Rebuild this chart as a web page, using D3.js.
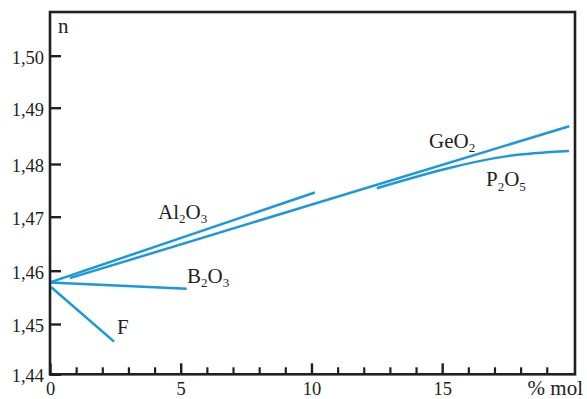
<!DOCTYPE html>
<html><head><meta charset="utf-8">
<script src="https://cdn.jsdelivr.net/npm/d3@7"></script>
<style>body{margin:0;background:#fff}svg{display:block}
text{font-family:"Liberation Serif","Times New Roman",Tinos,"Nimbus Roman","DejaVu Serif",serif}</style>
</head><body>
<script>
// ---- data ----
const xTicksMajor = [0, 5, 10, 15];
const xTicksMinor = [1, 2, 3, 4, 6, 7, 8, 9, 11, 12, 13, 14, 16, 17, 18, 19];
const yTicks = [1.44, 1.45, 1.46, 1.47, 1.48, 1.49, 1.50];
const yTickLabels = ["1,44", "1,45", "1,46", "1,47", "1,48", "1,49", "1,50"];
const xMax = 20.08;
const yMax = 1.5084;

const al2o3X = [0, 10.13];
const al2o3Y = [1.4578, 1.4746];
const geo2X = [0.76, 19.86];
const geo2Y = [1.4586, 1.4867];
const p2o5X = [12.5, 15.0, 17.5, 19.85];
const p2o5Y = [1.4754, 1.4789, 1.4814, 1.4823];
const b2o3X = [0, 5.23];
const b2o3Y = [1.4578, 1.4566];
const fX = [0.05, 2.45];
const fY = [1.4569, 1.4465];

// ---- layout ----
const W = 587, H = 399;
const ink = "#231f20", blue = "#1b98da";

const svg = d3.select("body").append("svg").attr("width", W).attr("height", H);

const x = d3.scaleLinear().domain([0, xMax]).range([50, 575]);
// the drawing's tick spacing is slightly uneven; follow it piecewise
const y = d3.scaleLinear().domain(yTicks).range([374.3, 324, 270.7, 216.7, 164, 107.7, 55.7]);

// series lines
const line = d3.line().x(d => x(d[0])).y(d => y(d[1]));
const curve = d3.line().x(d => x(d[0])).y(d => y(d[1])).curve(d3.curveNatural);
const zip = (a, b) => a.map((v, i) => [v, b[i]]);
const series = [
  {xs: al2o3X, ys: al2o3Y, gen: line},
  {xs: geo2X, ys: geo2Y, gen: line},
  {xs: p2o5X, ys: p2o5Y, gen: curve},
  {xs: b2o3X, ys: b2o3Y, gen: line},
  {xs: fX, ys: fY, gen: line}
];
svg.append("g").selectAll("path").data(series).join("path")
  .attr("d", s => s.gen(zip(s.xs, s.ys)))
  .attr("fill", "none").attr("stroke", blue).attr("stroke-width", 2.5)
  .attr("stroke-linecap", "butt");

// frame
svg.append("rect")
  .attr("x", x(0)).attr("y", y(yMax))
  .attr("width", x(xMax) - x(0)).attr("height", y(1.44) - y(yMax))
  .attr("fill", "none").attr("stroke", ink).attr("stroke-width", 2.6);

// y axis
const yAxis = svg.append("g").attr("transform", `translate(${x(0)},0)`)
  .call(d3.axisLeft(y).tickValues(yTicks).tickSizeInner(-11).tickSizeOuter(0).tickPadding(6)
    .tickFormat((d, i) => yTickLabels[i]));
yAxis.select(".domain").remove();
yAxis.selectAll(".tick line").attr("stroke", ink).attr("stroke-width", 2.4);
yAxis.selectAll(".tick text").attr("dy", "0.4em").attr("fill", ink).style("font-size", "18.5px");

// x axis major
const xAxis = svg.append("g").attr("transform", `translate(0,${y(1.44)})`)
  .call(d3.axisBottom(x).tickValues(xTicksMajor).tickSizeInner(-11).tickSizeOuter(0).tickPadding(8)
    .tickFormat(d3.format("d")));
xAxis.select(".domain").remove();
xAxis.selectAll(".tick line").attr("stroke", ink).attr("stroke-width", 2.4);
xAxis.selectAll(".tick text").attr("fill", ink).style("font-size", "18.5px");

// x axis minor
const xMinor = svg.append("g").attr("transform", `translate(0,${y(1.44)})`)
  .call(d3.axisBottom(x).tickValues(xTicksMinor).tickSizeInner(-7).tickSizeOuter(0).tickFormat(""));
xMinor.select(".domain").remove();
xMinor.selectAll(".tick line").attr("stroke", ink).attr("stroke-width", 2.2);

// remove d3's default font-family on axis groups so the CSS serif applies
svg.selectAll("g").attr("font-family", null);

// axis titles
svg.append("text").attr("x", 58).attr("y", 33).text("n")
  .attr("fill", ink).style("font-size", "21px");
svg.append("text").attr("x", 583).attr("y", 395).attr("text-anchor", "end").text("% mol")
  .attr("fill", ink).style("font-size", "21px");

// series labels with subscripts
const labels = [
  {px: 158, py: 218.5, parts: [["Al", 0], ["2", 1], ["O", 0], ["3", 1]]},
  {px: 429, py: 147.5, parts: [["GeO", 0], ["2", 1]]},
  {px: 486, py: 186, parts: [["P", 0], ["2", 1], ["O", 0], ["5", 1]]},
  {px: 187, py: 282.5, parts: [["B", 0], ["2", 1], ["O", 0], ["3", 1]]},
  {px: 117, py: 333.5, parts: [["F", 0]]}
];
labels.forEach(l => {
  const t = svg.append("text").attr("x", l.px).attr("y", l.py)
    .attr("fill", ink).style("font-size", "21px");
  let lowered = false;
  l.parts.forEach(([s, sub]) => {
    const ts = t.append("tspan").text(s);
    if (sub && !lowered) { ts.attr("dy", 4.5).style("font-size", "13px"); lowered = true; }
    else if (sub) { ts.style("font-size", "13px"); }
    else if (!sub && lowered) { ts.attr("dy", -4.5); lowered = false; }
  });
});
</script>
</body></html>
